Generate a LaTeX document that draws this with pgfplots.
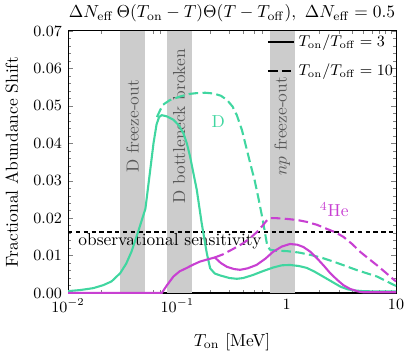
\documentclass[border=0pt]{standalone}
\usepackage{pgfplots}
\pgfplotsset{compat=1.18}
\definecolor{dgreen}{RGB}{64,214,160}
\definecolor{hemag}{RGB}{200,64,210}
\definecolor{bandgray}{RGB}{204,204,204}
\pgfplotstableread{
T v
0.01 0.0005
0.013 0.0008
0.017 0.0013
0.021 0.0021
0.025 0.0031
0.030 0.0053
0.034 0.0078
0.038 0.0110
0.0437 0.0163
0.051 0.0225
0.056 0.0320
0.0605 0.0400
0.0645 0.0450
0.068 0.0470
0.072 0.0475
0.080 0.0472
0.0918 0.0463
0.103 0.0448
0.1135 0.0427
0.122 0.0400
0.1306 0.0365
0.1506 0.0275
0.167 0.0186
0.186 0.0106
0.1995 0.0066
0.22 0.0052
0.246 0.0047
0.30 0.0040
0.35 0.0038
0.40 0.0040
0.49 0.0048
0.60 0.0058
0.75 0.0068
0.9 0.0074
1.07 0.0075
1.3 0.0072
1.53 0.0067
1.8 0.0057
2.15 0.0044
2.6 0.0030
3.1 0.0017
3.6 0.0010
4.1 0.0007
5 0.0005
7 0.0004
10 0.0004
}\Dthree
\pgfplotstableread{
T v
0.065 0.0470
0.070 0.0490
0.074 0.0503
0.085 0.0515
0.106 0.0525
0.13 0.0532
0.15 0.0534
0.18 0.0535
0.214 0.0533
0.25 0.0527
0.284 0.0516
0.32 0.0498
0.35 0.0475
0.39 0.0435
0.43 0.0385
0.47 0.0340
0.51 0.0300
0.55 0.0255
0.59 0.0210
0.63 0.0165
0.66 0.0130
0.70 0.0116
0.8 0.0113
1.0 0.0112
1.3 0.0108
1.64 0.0102
2.1 0.0094
2.67 0.0084
3.4 0.0073
4.4 0.0061
5.5 0.0052
6.7 0.0044
8 0.0033
9.5 0.0022
10 0.0019
}\Dten
\pgfplotstableread{
T v
0.01 0
0.072 0
0.08 0.0020
0.092 0.0044
0.105 0.0058
0.12 0.0066
0.14 0.0076
0.161 0.0084
0.19 0.0090
0.22 0.0095
0.25 0.0080
0.284 0.0070
0.33 0.0064
0.375 0.0062
0.44 0.0066
0.53 0.0075
0.64 0.0092
0.75 0.0110
0.9 0.0124
1.07 0.0131
1.25 0.0129
1.42 0.0123
1.65 0.0110
1.89 0.0093
2.2 0.0072
2.5 0.0053
2.9 0.0035
3.3 0.0021
3.8 0.0011
4.5 0.0004
5 0.0002
10 0.0002
}\Hethree
\pgfplotstableread{
T v
0.22 0.0095
0.26 0.0103
0.325 0.0118
0.40 0.0133
0.46 0.0146
0.53 0.0162
0.59 0.0177
0.65 0.0192
0.70 0.0200
0.8 0.0200
1.0 0.0198
1.25 0.0195
1.53 0.0190
1.9 0.0182
2.3 0.0172
2.8 0.0162
3.3 0.0150
4.0 0.0130
4.7 0.0110
5.6 0.0092
6.7 0.0074
8 0.0055
9.5 0.0036
10 0.0031
}\Heten
\begin{document}
\begin{tikzpicture}
\begin{axis}[
  name=ax,
  scale only axis, width=188.5pt, height=150.6pt,
  xmode=log, xmin=0.01, xmax=10, ymin=0, ymax=0.07,
  xtick={0.01,0.1,1,10}, xticklabels={$10^{-2}$,$10^{-1}$,$1$,$10$},
  ytick={0,0.01,0.02,0.03,0.04,0.05,0.06,0.07},
  yticklabel style={/pgf/number format/fixed,/pgf/number format/fixed zerofill,/pgf/number format/precision=2},
  scaled y ticks=false,
  minor y tick num=4,
  tick label style={font=\small},
  major tick length=3pt, minor tick length=1.7pt,
  axis line style={line width=0.6pt},
  xlabel={$T_{\rm on}$ [MeV]},
  xlabel style={at={(axis description cs:0.5,-0.187)}, anchor=center},
  ylabel={Fractional Abundance Shift},
  ylabel style={at={(axis description cs:-0.171,0.5)}, anchor=center},
  legend style={draw=none, fill=none, at={(rel axis cs:0.6,1.007)}, anchor=north west, row sep=4.5pt, inner sep=1pt, font=\small},
  legend cell align=left,
  legend image code/.code={\draw[#1] (0pt,0pt) -- (15pt,0pt);},
]
\addlegendimage{black, line width=1.2pt}
\addlegendentry{$T_{\rm on}/T_{\rm off}=3$}
\addlegendimage{black, line width=1.2pt, dash pattern=on 5.5pt off 2.5pt}
\addlegendentry{$T_{\rm on}/T_{\rm off}=10$}
\addplot[fill=bandgray, draw=none, forget plot] coordinates {(0.03,0.07) (0.051,0.07)} \closedcycle;
\addplot[fill=bandgray, draw=none, forget plot] coordinates {(0.08,0.07) (0.136,0.07)} \closedcycle;
\addplot[fill=bandgray, draw=none, forget plot] coordinates {(0.70,0.07) (1.19,0.07)} \closedcycle;
\node[rotate=90, text=black!65] at (axis cs:0.039,0.0445) {D freeze-out};
\node[rotate=90, text=black!65] at (axis cs:0.104,0.0445) {D bottleneck broken};
\node[rotate=90, text=black!65] at (axis cs:0.91,0.0445) {$np$ freeze-out};
\addplot[black, line width=1pt, dash pattern=on 2.5pt off 2pt, forget plot] coordinates {(0.01,0.0163) (10,0.0163)};
\node[anchor=base west, inner sep=0pt] at (axis cs:0.01235,0.0126) {observational sensitivity};
\addplot[dgreen, line width=1.2pt, forget plot] table[x=T,y=v] {\Dthree};
\addplot[dgreen, line width=1.2pt, dash pattern=on 5.5pt off 2.5pt, forget plot] table[x=T,y=v] {\Dten};
\addplot[hemag, line width=1.2pt, forget plot] table[x=T,y=v] {\Hethree};
\addplot[hemag, line width=1.2pt, dash pattern=on 5.5pt off 2.5pt, forget plot] table[x=T,y=v] {\Heten};
\node[text=dgreen] at (axis cs:0.237,0.0458) {D};
\node[text=hemag] at (axis cs:2.72,0.0222) {$^4$He};
\end{axis}
\node at ([yshift=10.2pt]ax.north) {$\Delta N_{\rm eff}\,\Theta(T_{\rm on}-T)\Theta(T-T_{\rm off}),\ \Delta N_{\rm eff}=0.5$};
\pgfresetboundingbox
\path[use as bounding box] ([shift={(-39.1pt,-36.8pt)}]ax.south west) rectangle ([shift={(6.3pt,17.8pt)}]ax.north east);
\end{tikzpicture}
\end{document}
